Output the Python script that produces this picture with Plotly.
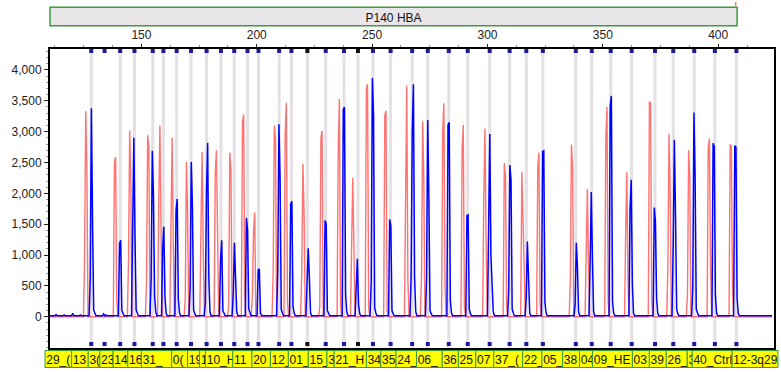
import plotly.graph_objects as go

# ---------------- data ----------------
bins = [128.24, 134.0, 140.79, 146.97, 154.89, 159.52, 165.27, 171.50, 178.24, 184.47,
        190.22, 195.98, 200.73, 209.69, 215.01, 221.93, 229.89, 237.80, 243.86, 250.35,
        258.0, 267.35, 274.13, 283.22, 291.44, 300.95, 309.60, 316.83, 324.0, 338.28,
        345.2, 353.42, 362.5, 372.62, 380.54, 389.62, 398.57, 407.91]
empty_bins = [134.0]
dark_marker_bins = [221.93, 243.86]

red_pos = [125.35, 138.3, 144.4, 152.2, 157.5, 162.8, 169.0, 175.8, 182.0, 187.8,
           193.8, 198.1, 207.1, 212.3, 219.5, 227.3, 235.3, 241.1, 247.5, 255.5,
           264.5, 271.4, 280.6, 289.0, 298.4, 307.3, 314.9, 321.8, 335.9, 342.8,
           351.3, 359.9, 370.2, 378.2, 386.7, 395.7, 405.2]
red_vals = [[920, 3330, 2410], [2500, 2590, 280], [930, 3020, 2160], [560, 2940, 2750],
            [1790, 3100, 1480], [1560, 2900, 1240], [300, 2510, 1710], [1460, 2670, 1080],
            [2330, 2700, 770], [160, 2660, 2370], [3160, 3280, 360], [360, 1380, 1690],
            [710, 3100, 2880], [2940, 3470, 260], [750, 2480, 1680], [170, 2900, 3010],
            [2730, 3530, 200], [1110, 2250, 1140], [3690, 3770, 150], [3270, 3340, 100],
            [2440, 3750, 600], [640, 3170, 2190], [3000, 3460, 520], [2700, 3110, 170],
            [1960, 3050, 1250], [2490, 2270, 180], [2350, 1400, 600], [2440, 2660, 200],
            [560, 2790, 2430], [940, 2070, 890], [2920, 3400, 250], [1350, 2340, 590],
            [3480, 3470, 280], [820, 2960, 2000], [400, 2700, 2270], [2730, 2890, 810],
            [2790, 2770, 440]]

blue_pos = [127.8, 140.5, 146.2, 154.2, 159.2, 165.0, 171.1, 177.7, 184.3, 189.8,
            195.5, 200.6, 209.1, 214.7, 221.8, 229.6, 237.5, 243.1, 249.6, 257.6,
            266.9, 273.6, 282.9, 291.1, 300.5, 309.2, 316.8, 323.9, 338.0, 344.5,
            353.2, 361.8, 372.3, 380.5, 389.0, 397.8, 407.2]
blue_vals = [[630, 3380, 1530, 110, 60], [1190, 1240, 100, 60], [1610, 2900, 1300, 110, 60],
             [590, 2690, 1960, 330, 80], [1110, 1460, 320, 60], [1730, 1910, 280, 60],
             [460, 2510, 1780, 110, 50], [210, 2020, 2820, 650, 80], [930, 1240, 100, 50],
             [360, 1200, 640, 80], [1600, 1400, 130, 60], [760, 775, 60],
             [760, 3120, 2240, 120, 60], [1820, 1870, 170, 60], [440, 1110, 630, 60],
             [1560, 1500, 100, 50], [3360, 3400, 360, 80], [600, 940, 200, 50],
             [570, 3870, 3270, 150, 60], [1580, 1470, 100, 50], [650, 3020, 3770, 630, 80],
             [640, 3190, 1870, 100, 50], [3110, 3150, 260, 60], [1640, 1650, 130, 50],
             [2110, 2960, 980, 400, 80], [430, 2460, 2220, 120, 60], [330, 1220, 590, 60],
             [2680, 2690, 240, 60], [200, 1200, 800, 80], [890, 2020, 920, 80],
             [3420, 3580, 250, 60], [1740, 2220, 530, 60], [1770, 1540, 300, 60],
             [1140, 2870, 1670, 120, 50], [500, 3310, 2270, 120, 50], [2810, 2760, 350, 60],
             [2770, 2750, 300, 60]]

blue_noise_pos = [113.0, 116.5, 120.2, 123.5, 133.6, 134.6]
blue_noise_vals = [35, 28, 55, 30, 45, 30]

red_base = 0
blue_base = 15

x_ticks = [150, 200, 250, 300, 350, 400]
y_ticks = [0, 500, 1000, 1500, 2000, 2500, 3000, 3500, 4000]

title_text = "P140 HBA"
bin_labels = ["29_(", "13", "3(", "23", "14", "16", "31_", "0(", "19", "1", "10_H",
              "11", "20", "12_", "01_", "15_", "3", "21_H", "34", "35", "24_", "06_",
              "36", "25", "07", "37_(", "22_", "05_", "38", "04", "09_HE", "03", "39",
              "26_", "3", "40_Ctrl", "12-3q29"]

# ---------------- layout constants ----------------
W, H = 781, 372
ML, MR, MT, MB = 50, 5, 49, 24
X_MIN, X_MAX = 110.36, 424.2
Y_MIN, Y_MAX = -507, 4340
PW, PH = W - ML - MR, H - MT - MB
# left edges (pixels) of the yellow label boxes, and right end
label_edges_px = [45, 71.7, 88.3, 100, 113.3, 128, 141.7, 172, 188, 200, 206, 233.3,
                  252.5, 271, 289, 309, 327.7, 335, 367.3, 381.7, 397, 417.5, 443.3,
                  459.5, 477, 495, 524, 543.3, 564, 581, 594, 634, 651, 668, 689, 694,
                  734, 780]


def px_to_paper_x(px):
    return (px - ML) / PW


def py_to_paper_y(py):
    return (H - MB - py) / PH


def build(pos, vals, base, step=0.5):
    items = sorted(zip(pos, vals), key=lambda t: t[0])
    xs, ys = [X_MIN], [base]
    for p, v in items:
        xs.append(p - step); ys.append(base)
        for k, val in enumerate(v):
            xs.append(p + k * step); ys.append(val)
        xs.append(p + len(v) * step); ys.append(base)
    xs.append(423.4); ys.append(base)
    return xs, ys


rx, ry = build(red_pos, red_vals, red_base)
bx, by = build(blue_pos + blue_noise_pos, blue_vals + [[v] for v in blue_noise_vals], blue_base)

fig = go.Figure()
fig.add_trace(go.Scatter(x=rx, y=ry, mode="lines",
                         line=dict(color="rgba(255,80,80,0.8)", width=1.4),
                         hoverinfo="skip", showlegend=False))
fig.add_trace(go.Scatter(x=bx, y=by, mode="lines",
                         line=dict(color="#0000ff", width=1.5),
                         hoverinfo="skip", showlegend=False))

# bin markers top & bottom
ypp = (Y_MAX - Y_MIN) / PH
y_top_mark = Y_MAX - 2.0 * ypp
y_bot_mark = Y_MIN + 4.0 * ypp
mcols = ["#111111" if b in dark_marker_bins else "#1c1c9a" for b in bins]
fig.add_trace(go.Scatter(x=bins + bins, y=[y_top_mark] * len(bins) + [y_bot_mark] * len(bins),
                         mode="markers",
                         marker=dict(symbol="square", size=4, color=mcols + mcols, line=dict(width=0)),
                         hoverinfo="skip", showlegend=False, cliponaxis=False))

shapes = []
for b in bins:
    if b in empty_bins:
        continue
    shapes.append(dict(type="line", xref="x", yref="paper", x0=b, x1=b, y0=0, y1=1,
                       line=dict(color="#e4e0e4", width=3), layer="below"))

# top title bar
bar_x0, bar_x1 = px_to_paper_x(50), px_to_paper_x(739)
bar_y0, bar_y1 = py_to_paper_y(25.7), py_to_paper_y(7.3)
shapes.append(dict(type="rect", xref="paper", yref="paper", x0=bar_x0, x1=bar_x1,
                   y0=bar_y0, y1=bar_y1, fillcolor="#e9e6e9",
                   line=dict(color="#3d9b3d", width=1.5),
                   label=dict(text=title_text, textposition="middle center",
                              font=dict(size=12, color="#111111", family="Arial, Liberation Sans"))))
shapes.append(dict(type="line", xref="paper", yref="paper",
                   x0=px_to_paper_x(737.7), x1=px_to_paper_x(737.7),
                   y0=py_to_paper_y(6), y1=py_to_paper_y(2),
                   line=dict(color="#ff4040", width=1)))

# bottom yellow label row: each later box is drawn over the previous label, clipping it
ly0, ly1 = py_to_paper_y(367.5), py_to_paper_y(350.5)
for i, lab in enumerate(bin_labels):
    x0 = px_to_paper_x(label_edges_px[i])
    x1 = px_to_paper_x(label_edges_px[i + 1])
    shapes.append(dict(type="rect", xref="paper", yref="paper", x0=x0, x1=x1, y0=ly0, y1=ly1,
                       fillcolor="#ffff00", line=dict(color="#3a9a3a", width=1)))
    shapes.append(dict(type="rect", xref="paper", yref="paper",
                       x0=px_to_paper_x(label_edges_px[i] - 1.8), x1=x1, y0=ly0, y1=ly1,
                       fillcolor="rgba(0,0,0,0)", line=dict(width=0),
                       label=dict(text=lab, textposition="middle left", padding=0,
                                  font=dict(size=12, color="#111111",
                                            family="Arial, Liberation Sans"))))

fig.update_layout(
    width=W, height=H,
    margin=dict(l=ML, r=MR, t=MT, b=MB, pad=0),
    paper_bgcolor="white", plot_bgcolor="white",
    showlegend=False, hovermode=False,
    shapes=shapes,
    font=dict(family="Arial, Liberation Sans", size=12, color="#222222"),
    xaxis=dict(range=[X_MIN, X_MAX], side="top", tickvals=x_ticks,
               ticks="outside", ticklen=3, tickcolor="#222", tickwidth=1,
               minor=dict(dtick=12.5, tick0=150, ticks="outside", ticklen=2, tickcolor="#999"),
               showline=True, linecolor="black", linewidth=2, mirror=True,
               showgrid=False, zeroline=False, tickfont=dict(size=12, color="#222")),
    yaxis=dict(range=[Y_MIN, Y_MAX], tickvals=y_ticks, tickformat=",",
               ticks="outside", ticklen=4, tickcolor="#222",
               minor=dict(dtick=100, ticks="outside", ticklen=2, tickcolor="#999"),
               showline=True, linecolor="black", linewidth=2, mirror=True,
               showgrid=False, zeroline=False, tickfont=dict(size=12, color="#222")),
)

fig.write_html("out.html", config={"displayModeBar": False},
               post_script="document.body.style.margin='0';document.body.style.overflow='hidden';")
